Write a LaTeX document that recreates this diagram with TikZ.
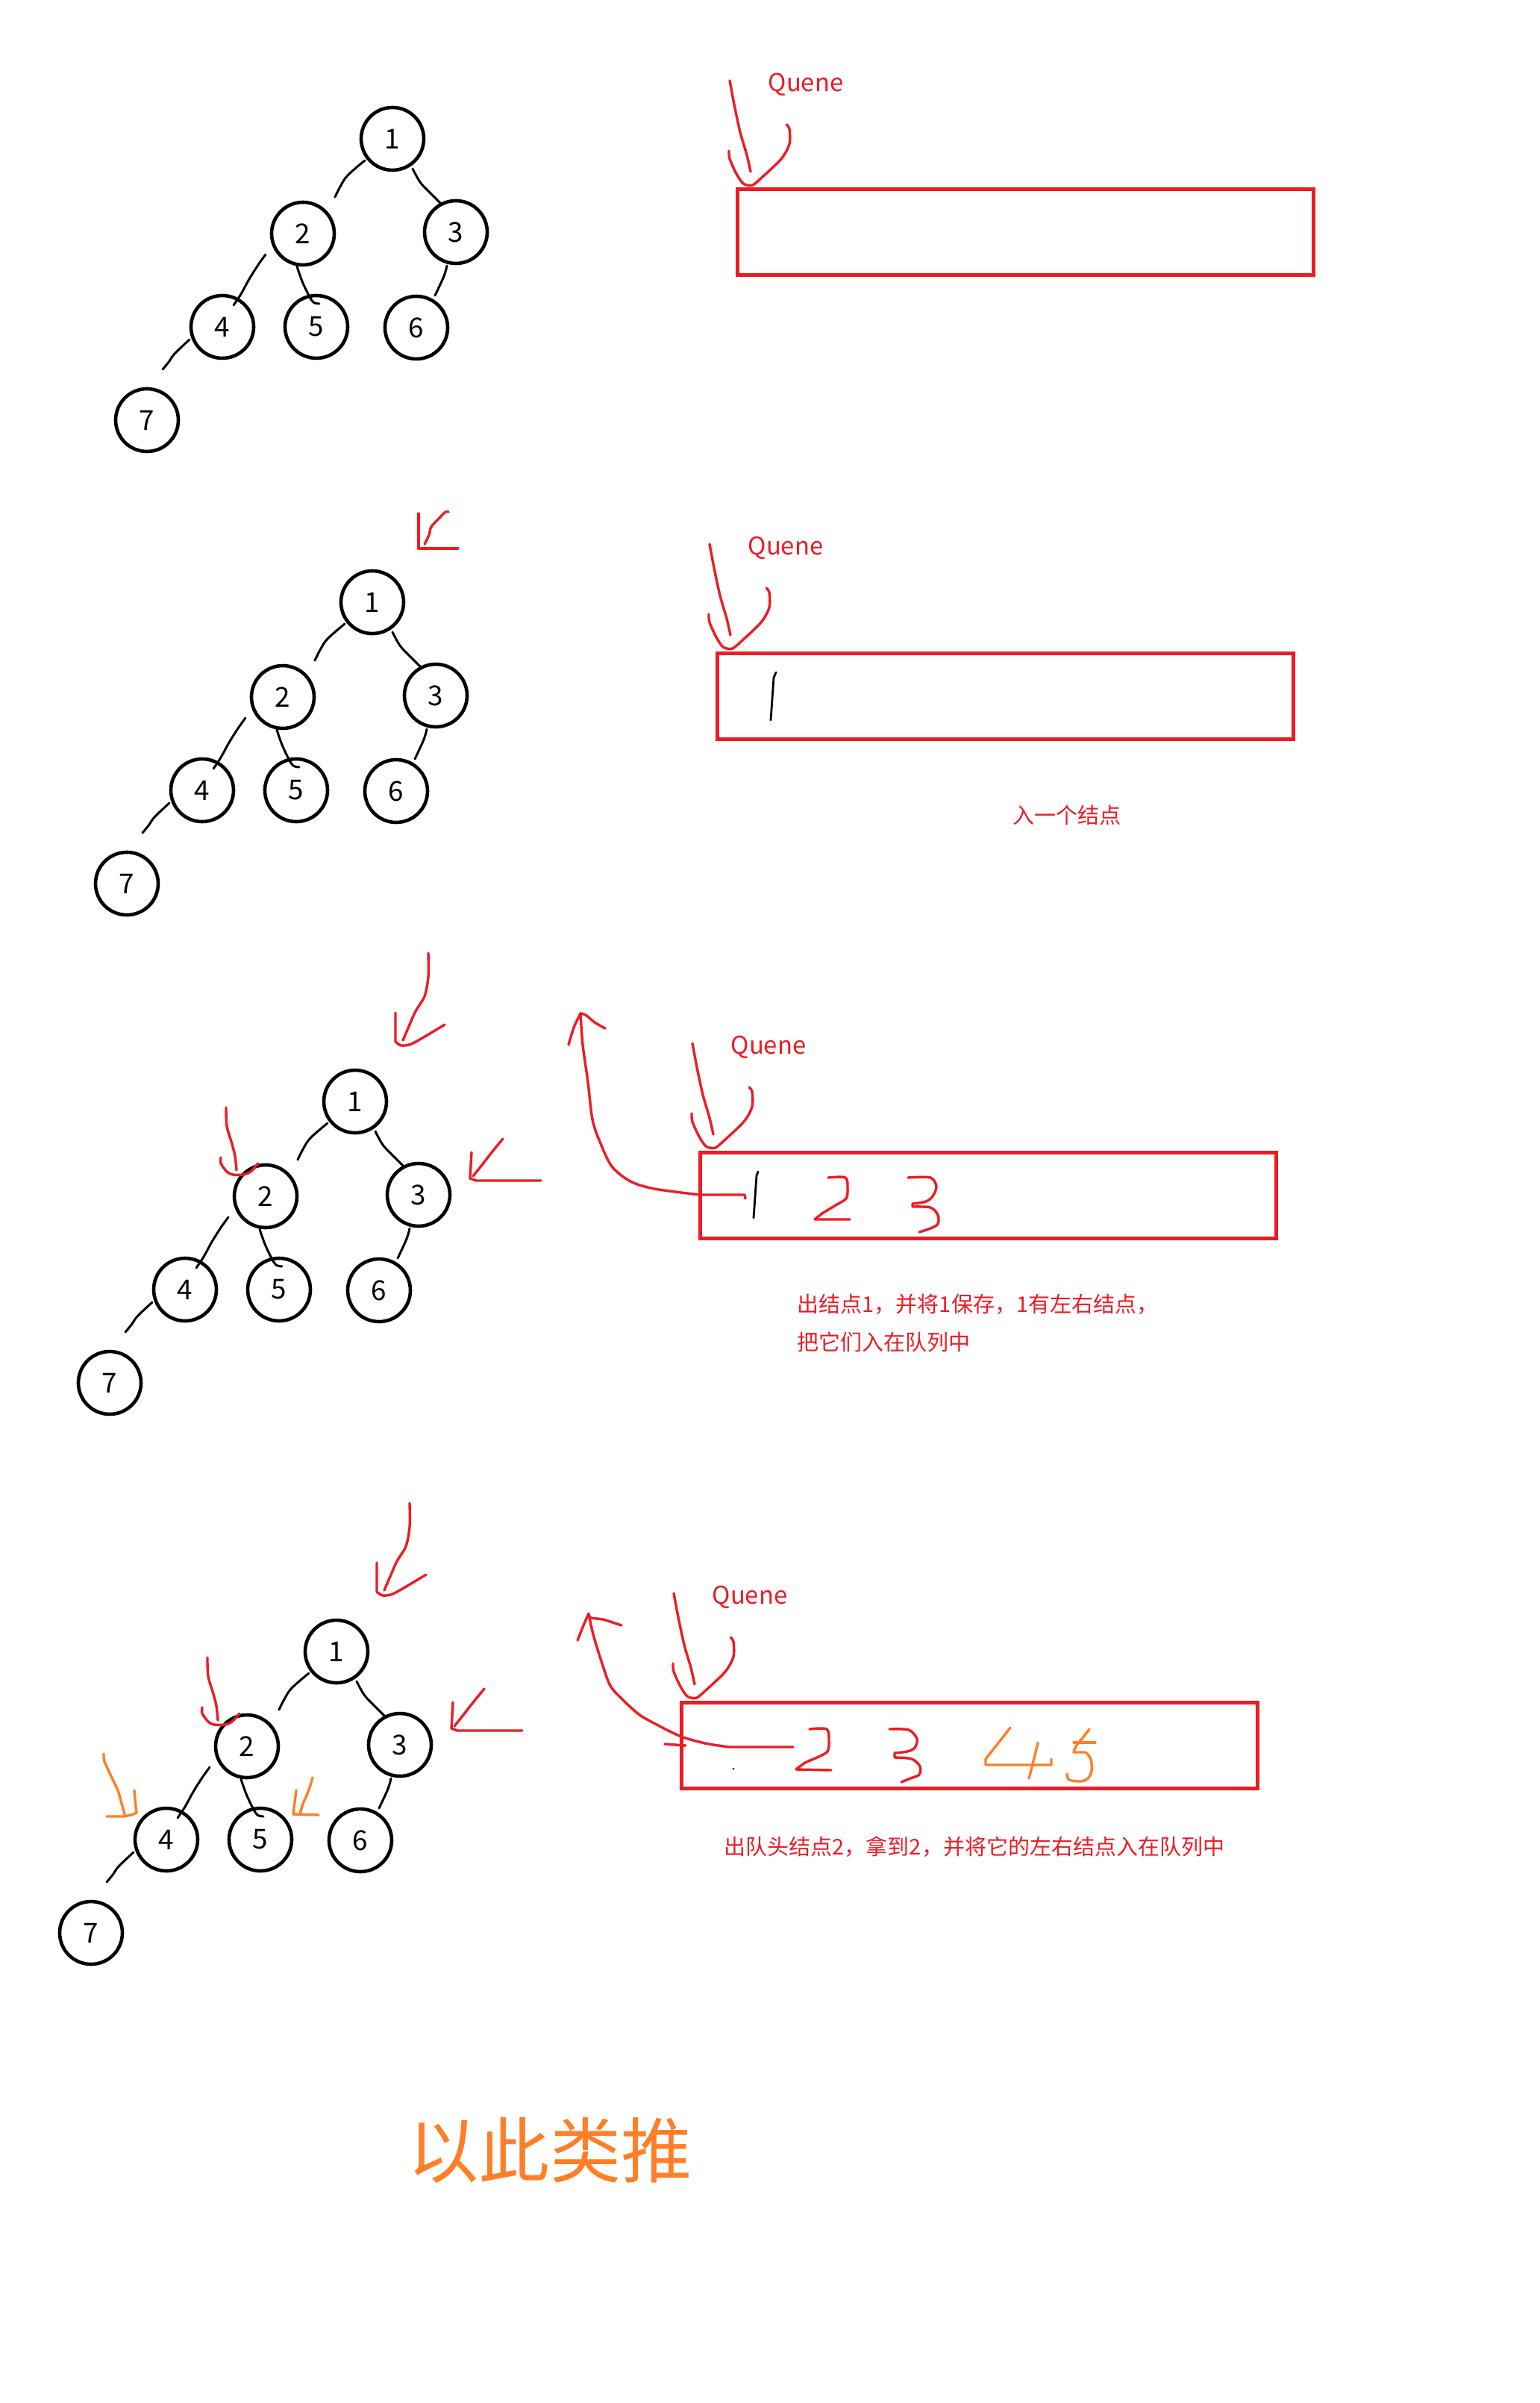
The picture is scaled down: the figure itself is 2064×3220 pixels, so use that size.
\documentclass[tikz,border=0pt]{standalone}
\usepackage{fontspec}
\setmainfont{Noto Sans CJK SC}
\usetikzlibrary{calc}
\definecolor{pred}{HTML}{ED1C24}
\definecolor{porange}{HTML}{FF7F27}
\tikzset{
 vert/.style={circle, draw=black, line width=1.15pt, minimum size=21pt, inner sep=0pt, font=\fontsize{9.2}{9.2}\selectfont},
 edge/.style={line width=0.75pt, line cap=round, line join=round},
 rstroke/.style={draw=pred, line width=0.85pt, line cap=round, line join=round},
 ostroke/.style={draw=porange, line width=0.85pt, line cap=round, line join=round},
 kstroke/.style={draw=black, line width=0.7pt, line cap=round, line join=round},
 qbox/.style={draw=pred, line width=1.25pt},
 qlabel/.style={text=pred, font=\fontsize{8.2}{8.2}\selectfont, inner sep=0pt},
 note/.style={text=pred, font=\fontsize{7.25}{7.25}\selectfont, anchor=west, inner sep=0pt},
}
\newcommand\mytree[3]{%
 \node[vert] (#1n1) at ({526+(#2)},{186+(#3)}) {1};
 \node[vert] (#1n2) at ({406+(#2)},{313+(#3)}) {2};
 \node[vert] (#1n3) at ({611+(#2)},{311+(#3)}) {3};
 \node[vert] (#1n4) at ({298+(#2)},{438+(#3)}) {4};
 \node[vert] (#1n5) at ({424+(#2)},{438+(#3)}) {5};
 \node[vert] (#1n6) at ({558+(#2)},{439+(#3)}) {6};
 \node[vert] (#1n7) at ({197+(#2)},{563+(#3)}) {7};
 \draw[edge] plot[smooth,tension=.6] coordinates {($(#1n1)+(-37,29)$) ($(#1n1)+(-60,49)$) ($(#1n1)+(-70,64)$) ($(#1n1)+(-77,78)$)};
 \draw[edge] plot[smooth,tension=.6] coordinates {($(#1n1)+(27,40)$) ($(#1n1)+(37,58)$) ($(#1n1)+(49,71)$) ($(#1n1)+(64,86)$)};
 \draw[edge] plot[smooth,tension=.6] coordinates {($(#1n2)+(-50,28)$) ($(#1n2)+(-60,42)$) ($(#1n2)+(-72,61)$) ($(#1n2)+(-83,81)$) ($(#1n2)+(-93,96)$)};
 \draw[edge] plot[smooth,tension=.6] coordinates {($(#1n2)+(-8,44)$) ($(#1n2)+(-1,64)$) ($(#1n2)+(8,83)$) ($(#1n2)+(14,92)$) ($(#1n2)+(22,94)$)};
 \draw[edge] plot[smooth,tension=.6] coordinates {($(#1n3)+(-12,45)$) ($(#1n3)+(-16,59)$) ($(#1n3)+(-28,85)$)};
 \draw[edge] plot[smooth,tension=.6] coordinates {($(#1n4)+(-44,17)$) ($(#1n4)+(-64,36)$) ($(#1n4)+(-71,46)$) ($(#1n4)+(-80,57)$)};
}
\newcommand\queuepart[1]{%
 \draw[qbox] (988,254) rectangle (1760,369);
 \draw[rstroke] plot[smooth,tension=.5] coordinates {(978,108) (984,140) (992,177) (1001,208) (1006,230)};
 \draw[rstroke] plot[smooth,tension=.5] coordinates {(977,202) (978,213) (987,233) (995,245) (1001,248) (1009,248) (1022,237) (1047,213) (1058,193) (1058,173) (1054,167)};
 \node[qlabel] (#1) at (1080,113) {Quene};
}
\newcommand\pointers{%
 \draw[rstroke] plot[smooth,tension=.5] coordinates {(624,-13) (624,19) (619,45) (607,65) (599,83) (590,104)};
 \draw[rstroke] (580,67) -- (580,106) plot[smooth,tension=.5] coordinates {(580,106) (588,111) (601,109) (621,98) (646,83)};
 \draw[rstroke] plot[smooth,tension=.5] coordinates {(353,194) (354,219) (361,243) (365,259) (367,278)};
 \draw[rstroke] plot[smooth,tension=.5] coordinates {(346,261) (346,269) (354,280) (362,284) (376,284) (386,280) (396,269)};
 \draw[rstroke] plot[smooth,tension=.5] coordinates {(724,236) (710,253) (696,271) (684,286)};
 \draw[rstroke] (682,254) -- (680,289) -- (688,292) -- (775,292);
}
\begin{document}
\begin{tikzpicture}[x=0.25pt,y=-0.25pt]
\fill[white] (0,0) rectangle (2064,3220);
\useasboundingbox (0,0) rectangle (2064,3220);
% section 1
\mytree{A}{0}{0}
\queuepart{qa}
% section 2
\mytree{B}{-27}{621}
\begin{scope}[shift={(-27,621)}]
 \queuepart{qb}
\end{scope}
\draw[kstroke] (1040,901) -- (1037,908) -- (1033,965);
\draw[rstroke] (561,688) -- (561,735) -- (614,735);
\draw[rstroke] plot[smooth,tension=.5] coordinates {(569,729) (575,717) (578,706) (589,694) (597,686) (601,686)};
\node[note] (tb) at (1357,1092) {入一个结点};
% section 3
\mytree{C}{-50}{1290}
\begin{scope}[shift={(-50,1290)}]
 \queuepart{qc}
 \pointers
\end{scope}
\draw[rstroke] (999,1606) -- (998,1601) -- (938,1601) plot[smooth,tension=.5] coordinates {(938,1601) (877,1593) (845,1583) (820,1563) (804,1530) (794,1500) (788,1450) (781,1400) (778,1358)};
\draw[rstroke] plot[smooth,tension=.5] coordinates {(762,1400) (769,1377) (778,1358)};
\draw[rstroke] plot[smooth,tension=.5] coordinates {(778,1358) (785,1360) (797,1370) (811,1378)};
\draw[kstroke] (1016,1570) -- (1014,1575) -- (1010,1632);
\draw[rstroke] plot[smooth,tension=.5] coordinates {(1110,1578) (1133,1578) (1136,1592) (1134,1606) (1120,1615) (1102,1626) (1092,1634)} -- (1139,1634);
\draw[rstroke] plot[smooth,tension=.5] coordinates {(1217,1578) (1247,1578) (1255,1590) (1250,1603) (1241,1610) (1223,1613)} -- (1223,1617) plot[smooth,tension=.5] coordinates {(1223,1617) (1247,1618) (1257,1628) (1257,1640) (1247,1646) (1232,1651)};
\node[note] (tc1) at (1068,1748) {出结点1，并将1保存，1有左右结点，};
\node[note] (tc2) at (1068,1798) {把它们入在队列中};
% section 4
\mytree{D}{-75}{2027}
\begin{scope}[shift={(-75,2027)}]
 \queuepart{qd}
 \pointers
\end{scope}
\draw[ostroke] plot[smooth,tension=.5] coordinates {(139,2350) (140,2360) (149,2380) (158,2399) (162,2413) (167,2431)};
\draw[ostroke] plot[smooth,tension=.5] coordinates {(180,2399) (181,2411) (183,2429)} -- (176,2432) -- (165,2434) -- (143,2434);
\draw[ostroke] plot[smooth,tension=.5] coordinates {(419,2382) (413,2401) (406,2417) (402,2431)};
\draw[ostroke] (397,2399) -- (393,2431) -- (427,2432);
\draw[rstroke] (1063,2341) -- (977,2341) plot[smooth,tension=.5] coordinates {(977,2341) (945,2336) (913,2327) (884,2313) (856,2297) (830,2273) (817,2257) (805,2223) (795,2190) (789,2163)};
\draw[rstroke] (891,2337) -- (919,2339);
\draw[rstroke] plot[smooth,tension=.5] coordinates {(774,2198) (782,2178) (789,2162)};
\draw[rstroke] plot[smooth,tension=.5] coordinates {(790,2165) (792,2168) (808,2170) (824,2175) (833,2178)};
\fill[black] (983,2370) circle[radius=1.5];
\draw[rstroke] plot[smooth,tension=.5] coordinates {(1085,2317) (1108,2317) (1111,2333) (1109,2347) (1095,2355) (1079,2362) (1067,2371)} -- (1114,2372);
\draw[rstroke] plot[smooth,tension=.5] coordinates {(1192,2317) (1218,2318) (1229,2330) (1226,2342) (1216,2347) (1199,2349)} -- (1199,2355) plot[smooth,tension=.5] coordinates {(1199,2355) (1222,2357) (1233,2367) (1232,2378) (1220,2383) (1208,2388)};
\draw[ostroke] plot[smooth,tension=.5] coordinates {(1354,2315) (1340,2333) (1321,2357)} -- (1321,2365) -- (1409,2365) -- (1409,2357);
\draw[ostroke] plot[smooth,tension=.5] coordinates {(1391,2335) (1385,2360) (1379,2383)};
\draw[ostroke] (1439,2335) -- (1468,2335);
\draw[ostroke] plot[smooth,tension=.5] coordinates {(1460,2317) (1450,2330) (1442,2340) (1439,2348)} -- (1455,2348) plot[smooth,tension=.5] coordinates {(1455,2348) (1462,2357) (1463,2373) (1458,2383) (1449,2387) (1433,2385) (1430,2377)};
\node[note] (td) at (970,2475) {出队头结点2，拿到2，并将它的左右结点入在队列中};
\node[text=porange, font=\fontsize{23.8}{23.8}\selectfont, inner sep=0pt] (te) at (737,2882) {以此类推};
\end{tikzpicture}
\end{document}
